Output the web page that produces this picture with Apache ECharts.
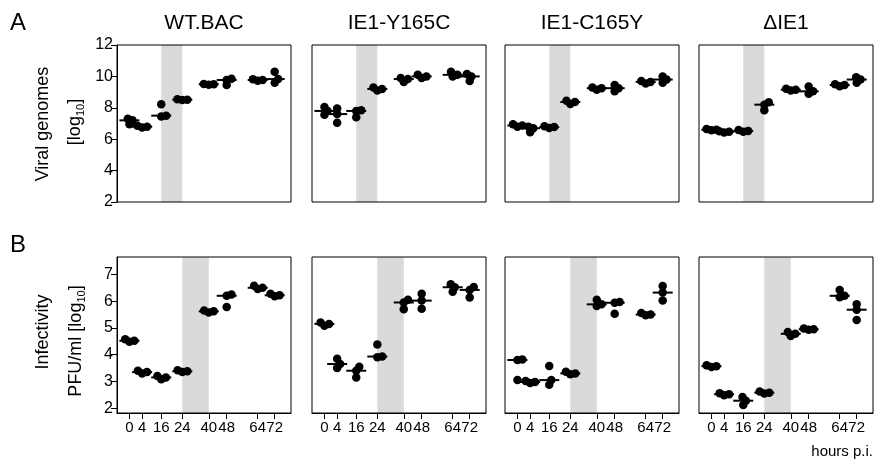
<!DOCTYPE html>
<html>
<head>
<meta charset="utf-8">
<script src="https://cdn.jsdelivr.net/npm/echarts@6/dist/echarts.min.js"></script>
<style>
  html, body { margin: 0; padding: 0; background: #fff; }
  #chart { width: 874px; height: 460px; }
</style>
</head>
<body>
<div id="chart"></div>
<script>
// time points (hours p.i.)
const TIMES = [0, 4, 16, 24, 40, 48, 64, 72];
const STRAINS = ['WT.BAC', 'IE1-Y165C', 'IE1-C165Y', 'ΔIE1'];

// viral genomes [log10], 3 replicates per time point
const genomesWT    = [[7.3, 7.2, 6.95], [6.85, 6.8, 6.75], [8.22, 7.5, 7.45], [8.55, 8.52, 8.5], [9.52, 9.5, 9.47], [9.85, 9.77, 9.45], [9.82, 9.77, 9.72], [10.3, 9.83, 9.6]];
const genomesY165C = [[8.05, 7.8, 7.55], [7.95, 7.6, 7.05], [7.85, 7.8, 7.4], [9.3, 9.2, 9.1], [9.9, 9.83, 9.65], [10.1, 10.0, 9.9], [10.3, 10.1, 10.0], [10.15, 10.0, 9.7]];
const genomesC165Y = [[6.95, 6.87, 6.8], [6.8, 6.7, 6.45], [6.82, 6.77, 6.72], [8.45, 8.37, 8.25], [9.3, 9.25, 9.15], [9.45, 9.25, 9.05], [9.7, 9.65, 9.55], [10.0, 9.8, 9.6]];
const genomesDIE1  = [[6.65, 6.6, 6.57], [6.5, 6.47, 6.42], [6.58, 6.53, 6.47], [8.35, 8.2, 7.85], [9.22, 9.15, 9.1], [9.35, 9.05, 8.9], [9.5, 9.45, 9.38], [9.95, 9.8, 9.6]];

// infectivity PFU/ml [log10]
const pfuWT    = [[4.58, 4.52, 4.48], [3.4, 3.35, 3.3], [3.2, 3.15, 3.08], [3.42, 3.38, 3.35], [5.65, 5.62, 5.58], [6.25, 6.2, 5.78], [6.58, 6.5, 6.45], [6.28, 6.22, 6.18]];
const pfuY165C = [[5.2, 5.15, 5.08], [3.85, 3.65, 3.5], [3.55, 3.4, 3.15], [4.38, 3.93, 3.9], [6.05, 5.95, 5.7], [6.28, 6.02, 5.72], [6.63, 6.52, 6.35], [6.53, 6.42, 6.14]];
const pfuC165Y = [[3.82, 3.8, 3.05], [3.02, 2.98, 2.94], [3.58, 3.05, 2.88], [3.36, 3.3, 3.27], [6.05, 5.88, 5.82], [5.97, 5.94, 5.53], [5.56, 5.5, 5.47], [6.57, 6.32, 6.02]];
const pfuDIE1  = [[3.6, 3.57, 3.54], [2.56, 2.52, 2.48], [2.42, 2.28, 2.12], [2.62, 2.58, 2.55], [4.85, 4.78, 4.7], [4.98, 4.95, 4.93], [6.42, 6.2, 6.15], [5.88, 5.68, 5.3]];

const genomes = [genomesWT, genomesY165C, genomesC165Y, genomesDIE1];
const pfu = [pfuWT, pfuY165C, pfuC165Y, pfuDIE1];

// axis layout: where each time point sits along the panel (panel spans 0..175)
const X_SLOTS = [12.5, 25.3, 44.5, 65.7, 92.3, 110.3, 141.5, 158.6];
const ROWS = [
  { top: 45, height: 157, min: 2, max: 12, ticks: [2, 4, 6, 8, 10, 12], band: [2, 3] },
  { top: 257, height: 156, min: 1.82, max: 7.65, ticks: [2, 3, 4, 5, 6, 7], band: [3, 4] }
];
const COL_LEFT = [117, 312, 505, 699];
const FONT = 'Liberation Sans';

function median(a) {
  const s = a.slice().sort((x, y) => x - y);
  return s[Math.floor(s.length / 2)];
}

// simple beeswarm: horizontal offsets (px) so dots do not pile up
function swarm(vals, pxPerUnit, d) {
  const order = vals.map((v, i) => i).sort((a, b) => vals[a] - vals[b]);
  const placed = [];
  const off = [];
  order.forEach(i => {
    const y = vals[i] * pxPerUnit;
    const cands = [0];
    placed.forEach(p => {
      const dy = y - p.y;
      if (Math.abs(dy) < d) {
        const s = Math.sqrt(d * d - dy * dy);
        cands.push(p.x + s, p.x - s);
      }
    });
    cands.sort((a, b) => Math.abs(a) - Math.abs(b));
    const x = cands.find(c => placed.every(p => (c - p.x) ** 2 + (y - p.y) ** 2 >= d * d - 0.01));
    off[i] = x;
    placed.push({ x, y });
  });
  return off;
}

const grid = [], xAxis = [], yAxis = [], series = [];

ROWS.forEach((row, r) => {
  const pxPerUnit = row.height / (row.max - row.min);
  COL_LEFT.forEach((left, c) => {
    const idx = grid.length;
    const values = r === 0 ? genomes[c] : pfu[c];
    grid.push({
      left: left, top: row.top, width: 174, height: row.height,
      show: true, borderColor: '#000', borderWidth: 1, backgroundColor: 'transparent', z: 5
    });
    xAxis.push({
      gridIndex: idx, type: 'value', min: 0, max: 175,
      axisLine: { show: r === 1, onZero: false, lineStyle: { color: '#000', width: 1 } },
      axisTick: { show: r === 1, customValues: X_SLOTS, length: 6, lineStyle: { color: '#000' } },
      axisLabel: {
        show: r === 1, customValues: X_SLOTS, margin: 7, color: '#000', fontSize: 15, fontFamily: FONT,
        formatter: v => {
          let k = 0;
          X_SLOTS.forEach((s, j) => { if (Math.abs(s - v) < Math.abs(X_SLOTS[k] - v)) k = j; });
          return String(TIMES[k]);
        }
      },
      splitLine: { show: false }
    });
    yAxis.push({
      gridIndex: idx, type: 'value', min: row.min, max: row.max,
      axisLine: { show: c === 0, onZero: false, lineStyle: { color: '#000', width: 1 } },
      axisTick: { show: c === 0, customValues: row.ticks, length: 6, lineStyle: { color: '#000' } },
      axisLabel: { show: c === 0, customValues: row.ticks, margin: 4, color: '#000', fontSize: 16, fontFamily: FONT },
      splitLine: { show: false }
    });

    // grey band
    series.push({
      type: 'line', xAxisIndex: idx, yAxisIndex: idx, data: [], z: 1, silent: true,
      markArea: {
        silent: true,
        itemStyle: { color: '#dadada' },
        data: [[{ xAxis: X_SLOTS[row.band[0]] }, { xAxis: X_SLOTS[row.band[1]] }]]
      }
    });

    // replicate dots
    const dots = [];
    values.forEach((reps, t) => {
      const off = swarm(reps, pxPerUnit, 5);
      reps.forEach((v, k) => {
        dots.push({ value: [X_SLOTS[t], v], symbolOffset: [off[k], 0] });
      });
    });
    series.push({
      type: 'scatter', xAxisIndex: idx, yAxisIndex: idx, z: 3,
      symbol: 'circle', symbolSize: 8.5, itemStyle: { color: '#000', opacity: 1 },
      data: dots
    });

    // median bars
    series.push({
      type: 'scatter', xAxisIndex: idx, yAxisIndex: idx, z: 4,
      symbol: 'rect', symbolSize: [20, 2], itemStyle: { color: '#000', opacity: 1 },
      data: values.map((reps, t) => [X_SLOTS[t], median(reps)])
    });
  });
});

const txt = (text, x, y, size, opts) => Object.assign({
  type: 'text', x: x, y: y, z: 20,
  style: Object.assign({
    text: text, fill: '#000', fontSize: size, fontFamily: FONT,
    align: 'center', verticalAlign: 'middle'
  }, (opts && opts.style) || {})
}, opts && opts.rotation ? { rotation: opts.rotation } : {});

const sub = { sub: { fontSize: 11, fontFamily: FONT, verticalAlign: 'bottom', lineHeight: 22 } };
const graphic = [
  txt('A', 10, 23, 24, { style: { align: 'left' } }),
  txt('B', 10, 245, 24, { style: { align: 'left' } }),
  txt('Viral genomes', 43, 124, 18, { rotation: Math.PI / 2 }),
  txt('[log{sub|10}]', 75, 122, 18, { rotation: Math.PI / 2, style: { rich: sub, lineHeight: 22 } }),
  txt('Infectivity', 43, 332, 18, { rotation: Math.PI / 2 }),
  txt('PFU/ml [log{sub|10}]', 76, 341, 18, { rotation: Math.PI / 2, style: { rich: sub, lineHeight: 22 } }),
  txt('hours p.i.', 873, 452, 15, { style: { align: 'right' } })
];
STRAINS.forEach((s, c) => graphic.push(txt(s, COL_LEFT[c] + 87, 23, 21)));

const chart = echarts.init(document.getElementById('chart'));
chart.setOption({
  animation: false,
  backgroundColor: '#fff',
  grid: grid,
  xAxis: xAxis,
  yAxis: yAxis,
  series: series,
  graphic: graphic
});
</script>
</body>
</html>
